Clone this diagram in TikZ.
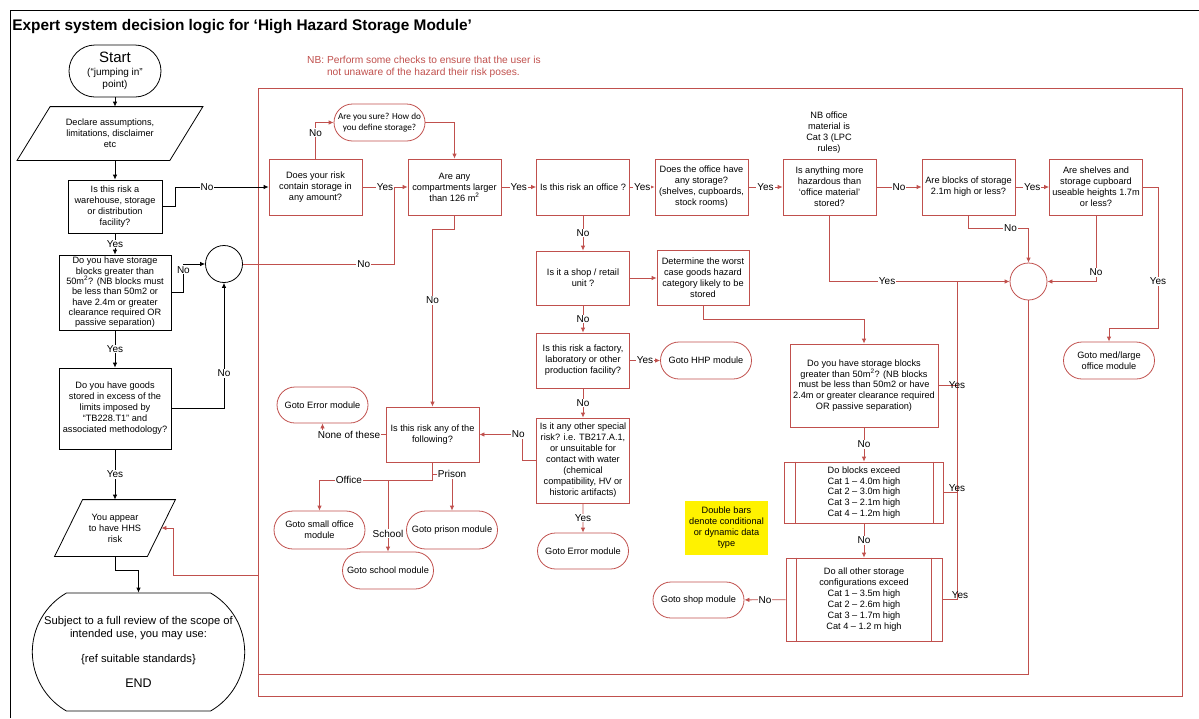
\documentclass[tikz,border=0pt]{standalone}
\usepackage{fontspec}
\setmainfont{Liberation Sans}
\newfontfamily\calibrifont{Carlito}
\usepackage{tikz}
\usetikzlibrary{arrows.meta,positioning,shapes.misc}
\definecolor{hhred}{RGB}{192,80,77}
\newcommand{\hhsfont}{\fontsize{9.2}{11}\selectfont}
\tikzset{every picture/.style={
  >={Latex[length=5pt,width=4.5pt]}   % Visio style arrow heads.
  }
}

\begin{document}
\begin{tikzpicture}[
    x=1pt, y=-1pt,
    font=\hhsfont,
    line width=0.8pt,
    bbox/.style={
      draw,
      align=center,
      inner sep=1pt
    },
    rbox/.style={
      draw=hhred,
      align=center,
      inner sep=1pt,
      minimum width=93pt,
      minimum height=56pt
    },
    term/.style={
      draw=hhred,
      rounded rectangle,
      align=center,
      inner sep=1pt,
      minimum width=93pt,
      minimum height=37pt
    },
    junc/.style={circle,minimum size=37pt,inner sep=0pt},
    lbl/.style={fill=white,inner sep=1pt,font=\fontsize{10}{12}\selectfont},
    rl/.style={draw=hhred}]

    \useasboundingbox (0,0) rectangle (1199,718);

    % Helper macros.
    \def\plgram#1#2{ \draw ([xshift=#2]#1.north west) -- ([xshift=#2]#1.north east)
      -- ([xshift=-#2]#1.south east) -- ([xshift=-#2]#1.south west) -- cycle; }
    \def\dbars#1{ \draw[rl] ([xshift=11pt]#1.north west) -- ([xshift=11pt]#1.south west)
      ([xshift=-11pt]#1.north east) -- ([xshift=-11pt]#1.south east); }

    % Frames and headings.
    \draw (10,718) -- (10,10) -- (1199,10);
    \draw[rl] (258,88) rectangle (1182,696);
    \node[anchor=base west,inner sep=0pt,font=\fontsize{15.4}{18}\selectfont\bfseries]
      (title) at (12,30) {Expert system decision logic for ‘High Hazard Storage Module’};
    \node[text=hhred,align=left,font=\fontsize{10.2}{12}\selectfont] (nbchk) at (424,67)
      {NB: Perform some checks to ensure that the user is\\
       \phantom{NB: }not unaware of the hazard their risk poses.};

    % Draw the entry column.
    \node[draw,rounded rectangle,minimum width=94pt,minimum height=52pt,inner sep=1pt,
      align=center,font=\fontsize{10}{12.5}\selectfont] (start) at (115,71)
      {{\fontsize{15}{16}\selectfont Start}\\(“jumping in”\\point)};
    \node[minimum width=152pt,minimum height=53pt,inner sep=1pt,align=center]
      (decl) at (110,133.5) {Declare assumptions,\\limitations, disclaimer\\etc};
    \plgram{decl}{16.5pt}
    \node[bbox,minimum width=94pt,minimum height=53pt] (wh) at (115,206.5)
      {Is this risk a\\warehouse, storage\\or distribution\\facility?};
    \node[bbox,minimum width=112pt,minimum height=75pt,font=\fontsize{9.2}{10.3}\selectfont]
      (blk1) at (115,292.5) {Do you have storage\\blocks greater than\\
      50m\textsuperscript{2}? (NB blocks must\\be less than 50m2 or\\have 2.4m or greater\\
      clearance required OR\\passive separation)};
    \node[bbox,minimum width=112pt,minimum height=81pt] (goods) at (115,408.5)
      {Do you have goods\\stored in excess of the\\limits imposed by\\“TB228.T1” and\\
      associated methodology?};
    \node[minimum width=92pt,minimum height=56pt,inner sep=1pt,align=center]
      (hhs) at (115,528) {You appear\\to have HHS\\risk};
    \plgram{hhs}{14pt}
    \node[draw,rounded rectangle,rounded rectangle arc length=120,minimum width=219pt,
      minimum height=118pt,align=center,font=\fontsize{11.2}{13}\selectfont]
      (endt) at (138.5,652) {Subject to a full review of the scope of\\
      intended use, you may use:\\[12pt]\{ref suitable standards\}\\[12pt]
      {\fontsize{12.5}{14}\selectfont END}};
    \node[junc,draw] (jc1) at (224,264) {};

    % Draw the office branch.
    \node[rbox] (dys) at (315.5,187) {Does your risk\\contain storage in\\any amount?};
    \node[term,font=\calibrifont\fontsize{9.2}{11}\selectfont] (sure) at (379.5,122.5)
      {Are you sure? How do\\you define storage?};
    \node[rbox] (cmp) at (454.5,187)
      {Are any\\compartments larger\\than 126 m\textsuperscript{2}};
    \node[rbox] (off) at (583,187) {Is this risk an office ?};
    \node[rbox] (ost) at (701.5,187)
      {Does the office have\\any storage?\\(shelves, cupboards,\\stock rooms)};
    \node[rbox] (haz) at (829.5,187)
      {Is anything more\\hazardous than\\‘office material’\\stored?};
    \node[align=center] (nbofc) at (829,133) {NB office\\material is\\Cat 3 (LPC\\rules)};
    \node[rbox] (blk21) at (968.5,187) {Are blocks of storage\\2.1m high or less?};
    \node[rbox] (shv) at (1096,187)
      {Are shelves and\\storage cupboard\\useable heights 1.7m\\or less?};
    \node[junc,draw=hhred] (jc2) at (1028.5,281.5) {};
    \node[term] (medl) at (1109,360.5) {Goto med/large\\office module};

    % Draw the shop and special risk branch.
    \node[rbox,minimum height=54pt] (shop) at (583,278) {Is it a shop / retail\\unit ?};
    \node[rbox,minimum width=92pt,minimum height=55pt] (worst) at (703,277.5)
      {Determine the worst\\case goods hazard\\category likely to be\\stored};
    \node[rbox,minimum height=55pt] (fac) at (583,360.5)
      {Is this risk a factory,\\laboratory or other\\production facility?};
    \node[term] (hhp) at (706,360.5) {Goto HHP module};
    \node[rbox,minimum height=85pt] (spec) at (583,460.5)
      {Is it any other special\\risk? i.e. TB217.A.1,\\or unsuitable for\\
      contact with water\\(chemical\\compatibility, HV or\\historic artifacts)};
    \node[term,minimum height=36pt] (err2) at (583,551) {Goto Error module};
    \node[rbox,minimum height=55pt] (anyf) at (432.5,434.5)
      {Is this risk any of the\\following?};
    \node[term,minimum height=36pt] (err1) at (322.5,405) {Goto Error module};
    \node[term,minimum height=38pt] (smo) at (319.5,530) {Goto small office\\module};
    \node[term] (sch) at (388,570.5) {Goto school module};
    \node[term,minimum height=38pt] (pri) at (452,530) {Goto prison module};

    % Draw the storage height checks.
    \node[rbox,minimum width=148pt,minimum height=83pt,font=\fontsize{9.2}{10.7}\selectfont]
      (blk2) at (864,385.5) {Do you have storage blocks\\greater than 50m\textsuperscript{2}?
      (NB blocks\\must be less than 50m2 or have\\2.4m or greater clearance required\\
      OR passive separation)};
    \node[rbox,minimum width=159pt,minimum height=61pt,font=\fontsize{9.2}{10.8}\selectfont]
      (dbe) at (864,492.5) {Do blocks exceed\\Cat 1 – 4.0m high\\Cat 2 – 3.0m high\\
      Cat 3 – 2.1m high\\Cat 4 – 1.2m high};
    \dbars{dbe}
    \node[rbox,minimum width=156pt,minimum height=83pt] (dao) at (864,599.5)
      {Do all other storage\\configurations exceed\\Cat 1 – 3.5m high\\
      Cat 2 – 2.6m high\\Cat 3 – 1.7m high\\Cat 4 – 1.2 m high};
    \dbars{dao}
    \node[term,minimum height=36pt] (shopm) at (698.5,600) {Goto shop module};
    \node[fill=yellow,minimum width=83pt,minimum height=54pt,inner sep=1pt,align=center]
      (note) at (726.5,528) {Double bars\\denote conditional\\or dynamic data\\type};

    % Connect the entry column.
    \draw[->] (start.south) -- (start.south |- decl.north);
    \draw[->] (wh.north |- decl.south) -- (wh.north);
    \draw[->] (wh.east) -- ++(13,0) |- node[lbl,pos=0.67] {No} (dys.west);
    \draw[->] (wh) -- node[lbl] {Yes} (blk1);
    \draw[->] (blk1.east) -- ++(12,0) |- node[lbl,pos=0.4] {No} (jc1.west);
    \draw[->] (blk1) -- node[lbl] {Yes} (goods);
    \draw[->] (goods.east) -| node[lbl,pos=0.64] {No} (jc1.south);
    \draw[->] (goods) -- node[lbl] {Yes} (hhs);
    \draw[->] (hhs.south) -- ++(0,14) -| (endt.north);

    % Connect the top row.
    \coordinate (mrg) at (394,187);
    \draw[rl,->] (dys) -- node[lbl] {Yes} (cmp);
    \draw[rl,->] (dys.north) |- node[lbl,pos=0.36] {No} (sure.west);
    \draw[rl,->] (sure.east) -| (cmp.north);
    \draw[rl] (jc1.east) -| node[lbl,pos=0.4] {No} (mrg);
    \draw[rl,->] (cmp) -- node[lbl] {Yes} (off);
    \draw[rl,->] (off) -- node[lbl] {Yes} (ost);
    \draw[rl,->] (ost) -- node[lbl] {Yes} (haz);
    \draw[rl,->] (haz) -- node[lbl] {No} (blk21);
    \draw[rl,->] (blk21) -- node[lbl] {Yes} (shv);
    \draw[rl,->] (shv.east) -- ++(15,0) -- node[lbl,pos=0.67] {Yes} ++(0,141)
      -| (medl.north);
    \draw[rl,->] (shv.south) |- node[lbl,pos=0.43] {No} (jc2.east);
    \draw[rl,->] (blk21.south) -- ++(0,13) -| node[lbl,pos=0.35] {No} (jc2.north);
    \draw[rl,->] (haz.south) |- node[lbl,pos=0.66] {Yes} (jc2.west);

    % Connect the yes bus.
    \coordinate (bus) at (957,281.5);
    \draw[rl] (bus) -- (bus |- dao.east);
    \draw[rl] (blk2.east) -- node[pos=1,inner sep=0pt,font=\fontsize{10}{12}\selectfont]
      {Yes} (blk2.east -| bus);
    \draw[rl] (dbe.east) -- node[pos=1,yshift=4pt,inner sep=0pt,
      font=\fontsize{10}{12}\selectfont] {Yes} (dbe.east -| bus);
    \draw[rl] (dao.east) -- node[pos=1,xshift=3pt,yshift=4pt,inner sep=0pt,
      font=\fontsize{10}{12}\selectfont] {Yes} (dao.east -| bus);

    % Connect the shop branch.
    \draw[rl,->] (off) -- node[lbl] {No} (shop);
    \draw[rl,->] (shop.east) -- (shop.east -| worst.west);
    \draw[rl,->] (worst.south) -- ++(0,14) -| (blk2.north);
    \draw[rl,->] (blk2) -- node[lbl] {No} (dbe);
    \draw[rl,->] (dbe) -- node[lbl] {No} (dao);
    \draw[rl,->] (dao) -- node[lbl] {No} (shopm);
    \draw[rl,->] (shop) -- node[lbl] {No} (fac);
    \draw[rl,->] (fac) -- node[lbl] {Yes} (hhp);
    \draw[rl,->] (fac) -- node[lbl] {No} (spec);
    \draw[rl,->] (spec) -- node[lbl] {Yes} (err2);
    \draw[rl,->] (spec.west) -- ++(-13.5,0) |- node[lbl,pos=0.55] {No} (anyf.east);
    \draw[rl,->] (cmp.south) -- ++(0,14) -| node[lbl,pos=0.7] {No} (anyf.north);
    \draw[rl,->] (anyf.west) -| node[lbl,pos=0.29] {None of these} (err1.south);

    % Connect the risk types.
    \coordinate (fork) at (432.5,474);
    \coordinate (fork2) at (432.5,480);
    \draw[rl] (anyf.south) -- (fork2);
    \draw[rl,->] (fork) -| node[lbl] {Prison} (pri.north);
    \draw[rl,->] (fork2) -| node[lbl,pos=0.37] {Office} (smo.north);
    \draw[rl,->] (fork2 -| sch.north) -- node[lbl,pos=0.75] {School} (sch.north);

    % Return to the HHS result.
    \draw[rl,->] (jc2.south) |- (258,674) |- (173,575) |- (hhs.east);

  \end{tikzpicture}
\end{document}
